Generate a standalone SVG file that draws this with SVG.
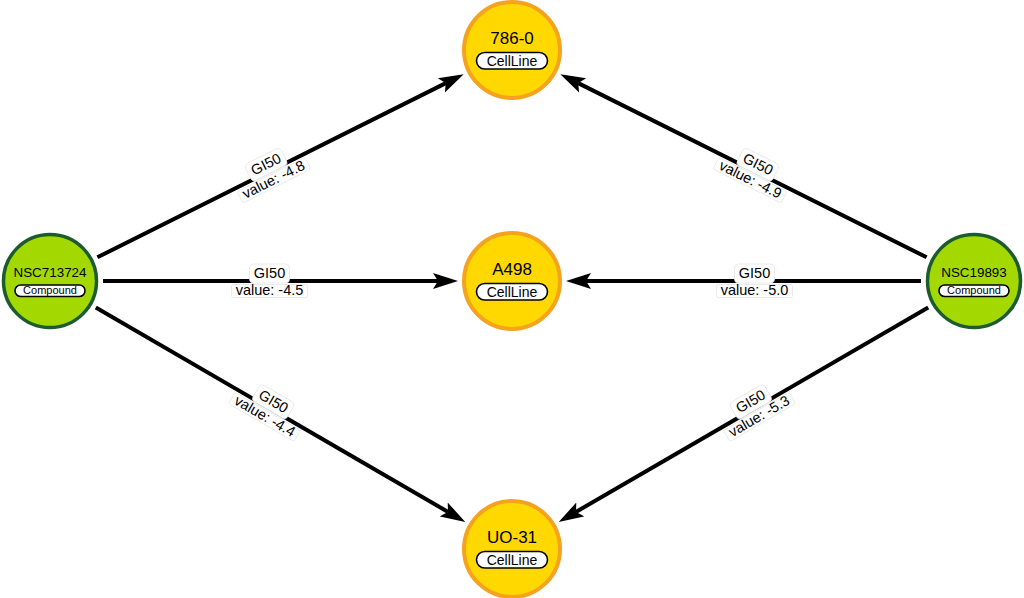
<svg xmlns="http://www.w3.org/2000/svg" width="1024" height="598" viewBox="0 0 1024 598">
<style>
.edge{stroke:#000;stroke-width:4;fill:none}
.cmp{fill:#a3d900;stroke:#1c5b2e;stroke-width:3.5}
.cl{fill:#ffd800;stroke:#f5a21e;stroke-width:4}
.pill{fill:#fff;stroke:#000;stroke-width:1.6}
.t{font-family:"Liberation Sans",Arial,sans-serif;text-anchor:middle;fill:#000}
.tc{font-size:13.4px}
.tl{font-size:17px}
.pc{font-size:11px}
.pl{font-size:14px}
.lb{font-size:14.5px}
.bg{fill:#fff;stroke:#e6e6e6;stroke-width:0.8}
</style>
<defs>
<marker id="arr" markerUnits="userSpaceOnUse" markerWidth="26" markerHeight="18" viewBox="0 -9 26 18" refX="5" refY="0" orient="auto">
<path d="M0,-8 L25,0 L0,8 L5,0 z" fill="#000"/>
</marker>
</defs>
<rect width="1024" height="598" fill="#fff"/>
<g id="connectors">
<line class="edge" x1="97.4" y1="257.3" x2="445.8" y2="83.1" marker-end="url(#arr)"/>
<line class="edge" x1="103" y1="281" x2="438" y2="281" marker-end="url(#arr)"/>
<line class="edge" x1="95.8" y1="307.6" x2="448" y2="511.9" marker-end="url(#arr)"/>
<line class="edge" x1="926.6" y1="257.3" x2="578.2" y2="83.1" marker-end="url(#arr)"/>
<line class="edge" x1="921" y1="281" x2="586" y2="281" marker-end="url(#arr)"/>
<line class="edge" x1="928.2" y1="307.6" x2="576" y2="511.9" marker-end="url(#arr)"/>
<g id="label-1" transform="translate(269.5,171.3) rotate(-26.57)">
<rect class="bg" x="-20" y="-17" width="40" height="19" rx="4"/>
<rect class="bg" x="-38" y="3.5" width="76" height="13" rx="2"/>
<text class="t lb" x="0" y="-3">GI50</text>
<text class="t lb" x="0" y="14">value: -4.8</text>
</g>
<g id="label-2" transform="translate(269.5,281)">
<rect class="bg" x="-20" y="-17" width="40" height="19" rx="4"/>
<rect class="bg" x="-38" y="3.5" width="76" height="13" rx="2"/>
<text class="t lb" x="0" y="-3">GI50</text>
<text class="t lb" x="0" y="14">value: -4.5</text>
</g>
<g id="label-3" transform="translate(269.5,408.3) rotate(30.12)">
<rect class="bg" x="-20" y="-17" width="40" height="19" rx="4"/>
<rect class="bg" x="-38" y="3.5" width="76" height="13" rx="2"/>
<text class="t lb" x="0" y="-3">GI50</text>
<text class="t lb" x="0" y="14">value: -4.4</text>
</g>
<g id="label-4" transform="translate(754.5,171.3) rotate(26.57)">
<rect class="bg" x="-20" y="-17" width="40" height="19" rx="4"/>
<rect class="bg" x="-38" y="3.5" width="76" height="13" rx="2"/>
<text class="t lb" x="0" y="-3">GI50</text>
<text class="t lb" x="0" y="14">value: -4.9</text>
</g>
<g id="label-5" transform="translate(754.5,281)">
<rect class="bg" x="-20" y="-17" width="40" height="19" rx="4"/>
<rect class="bg" x="-38" y="3.5" width="76" height="13" rx="2"/>
<text class="t lb" x="0" y="-3">GI50</text>
<text class="t lb" x="0" y="14">value: -5.0</text>
</g>
<g id="label-6" transform="translate(754.5,408.3) rotate(-30.12)">
<rect class="bg" x="-20" y="-17" width="40" height="19" rx="4"/>
<rect class="bg" x="-38" y="3.5" width="76" height="13" rx="2"/>
<text class="t lb" x="0" y="-3">GI50</text>
<text class="t lb" x="0" y="14">value: -5.3</text>
</g>
</g>
<g id="NSC713724" transform="translate(50,281)">
<circle class="cmp" r="46.5"/>
<text class="t tc" y="-4.3">NSC713724</text>
<rect class="pill" x="-35" y="4" width="70" height="11.5" rx="5.75"/>
<text class="t pc" y="13">Compound</text>
</g>
<g id="NSC19893" transform="translate(974,281)">
<circle class="cmp" r="46.5"/>
<text class="t tc" y="-4.3">NSC19893</text>
<rect class="pill" x="-35" y="4" width="70" height="11.5" rx="5.75"/>
<text class="t pc" y="13">Compound</text>
</g>
<g id="n786-0" transform="translate(512,50)">
<circle class="cl" r="48"/>
<text class="t tl" y="-6">786-0</text>
<rect class="pill" x="-35.5" y="2.5" width="71" height="16.5" rx="8.25"/>
<text class="t pl" y="15.5">CellLine</text>
</g>
<g id="A498" transform="translate(512,281)">
<circle class="cl" r="48"/>
<text class="t tl" y="-6">A498</text>
<rect class="pill" x="-35.5" y="2.5" width="71" height="16.5" rx="8.25"/>
<text class="t pl" y="15.5">CellLine</text>
</g>
<g id="UO-31" transform="translate(512,549)">
<circle class="cl" r="48"/>
<text class="t tl" y="-6">UO-31</text>
<rect class="pill" x="-35.5" y="2.5" width="71" height="16.5" rx="8.25"/>
<text class="t pl" y="15.5">CellLine</text>
</g>
</svg>
